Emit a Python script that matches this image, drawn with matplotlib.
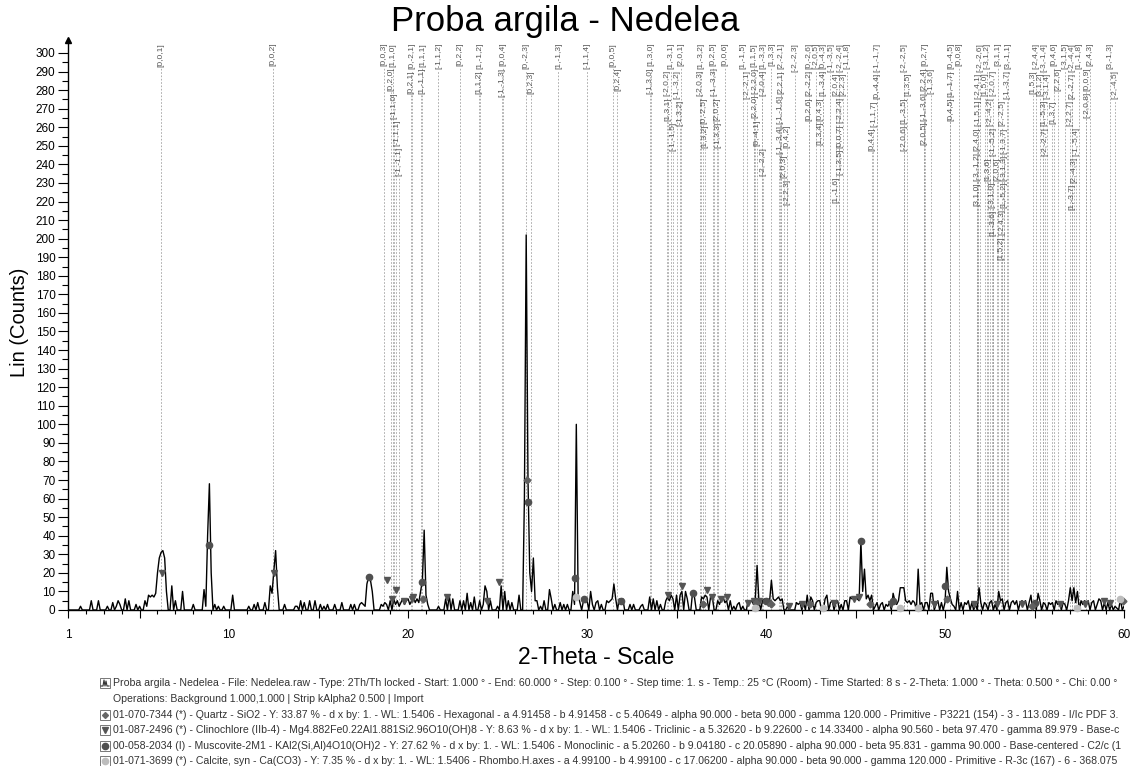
import matplotlib
matplotlib.use("Agg")
import matplotlib.pyplot as plt
from matplotlib.patches import Rectangle
from matplotlib.lines import Line2D
import numpy as np

plt.rcParams['font.family'] = ['Liberation Sans', 'DejaVu Sans']

# scan: Start 1.000, Step 0.100 (one row = one degree)
scan_start = 1.0
scan_step = 0.1
counts = [
    0, 0, 0, 0, 0, 0, 0, 2, 0, 0,        # 1
    0, 0, 0, 5, 0, 0, 0, 5, 0, 0,        # 2
    0, 0, 2, 0, 0, 4, 0, 2, 5, 3,        # 3
    0, 0, 6, 0, 5, 0, 0, 0, 3, 0,        # 4
    2, 0, 0, 5, 2, 8, 7, 8, 7, 9,        # 5
    20, 28, 31, 32, 28, 10, 0, 0, 13, 0,  # 6
    5, 0, 0, 0, 10, 0, 0, 0, 0, 0,       # 7
    3, 0, 0, 0, 0, 0, 11, 2, 40, 68,     # 8
    20, 0, 3, 0, 2, 0, 0, 2, 0, 0,       # 9
    0, 0, 8, 0, 0, 0, 0, 0, 0, 0,        # 10
    0, 2, 0, 0, 3, 0, 4, 0, 0, 0,        # 11
    4, 0, 0, 13, 9, 21, 32, 12, 0, 0,    # 12
    0, 3, 0, 0, 0, 0, 0, 2, 2, 0,        # 13
    5, 0, 4, 0, 0, 5, 0, 0, 5, 0,        # 14
    0, 3, 0, 2, 0, 3, 0, 0, 0, 3,        # 15
    0, 0, 0, 4, 0, 0, 0, 0, 3, 0,        # 16
    3, 0, 0, 3, 4, 3, 2, 14, 18, 16,     # 17
    10, 0, 0, 0, 0, 3, 2, 4, 3, 0,       # 18
    5, 0, 6, 3, 5, 2, 4, 6, 3, 5,        # 19
    6, 3, 5, 7, 4, 6, 4, 10, 16, 43,     # 20
    8, 3, 0, 0, 0, 0, 0, 2, 0, 0,        # 21
    0, 6, 0, 8, 0, 6, 0, 0, 0, 5,        # 22
    0, 5, 0, 9, 0, 4, 0, 7, 0, 0,        # 23
    5, 0, 3, 13, 10, 0, 5, 0, 0, 0,      # 24
    2, 0, 13, 0, 10, 0, 5, 0, 4, 0,      # 25
    0, 0, 8, 0, 0, 60, 202, 70, 20, 10,  # 26
    28, 5, 5, 0, 2, 0, 5, 0, 0, 11,      # 27
    6, 0, 3, 0, 0, 4, 0, 3, 0, 3,        # 28
    0, 0, 10, 3, 100, 8, 4, 0, 5, 4,     # 29
    5, 0, 10, 3, 0, 4, 5, 0, 3, 0,       # 30
    0, 5, 4, 5, 6, 14, 6, 0, 6, 5,       # 31
    6, 0, 0, 0, 3, 0, 3, 0, 0, 0,        # 32
    2, 3, 0, 0, 0, 7, 0, 6, 0, 5,        # 33
    0, 3, 0, 0, 5, 7, 5, 8, 6, 0,        # 34
    8, 0, 8, 10, 0, 10, 6, 0, 0, 10,     # 35
    7, 0, 0, 0, 7, 6, 8, 7, 0, 7,        # 36
    7, 0, 0, 5, 3, 6, 7, 4, 5, 0,        # 37
    5, 0, 2, 0, 3, 4, 0, 2, 0, 0,        # 38
    5, 4, 5, 3, 6, 24, 5, 0, 5, 6,       # 39
    4, 6, 5, 16, 6, 5, 6, 7, 5, 6,       # 40
    0, 0, 2, 0, 0, 0, 0, 4, 3, 4,        # 41
    0, 4, 0, 8, 0, 7, 5, 0, 4, 5,        # 42
    5, 0, 0, 6, 8, 0, 4, 5, 0, 4,        # 43
    5, 0, 3, 0, 5, 5, 0, 7, 6, 7,        # 44
    7, 6, 5, 37, 10, 22, 6, 8, 5, 8,     # 45
    0, 2, 4, 0, 3, 4, 0, 3, 2, 4,        # 46
    0, 9, 5, 3, 5, 12, 12, 12, 5, 4,     # 47
    5, 3, 5, 4, 0, 22, 3, 4, 0, 4,       # 48
    4, 0, 9, 9, 0, 3, 5, 0, 4, 0,        # 49
    4, 23, 10, 6, 3, 2, 0, 10, 0, 4,     # 50
    0, 4, 3, 5, 0, 4, 0, 3, 0, 12,       # 51
    4, 0, 4, 3, 0, 4, 5, 0, 3, 0,        # 52
    10, 5, 6, 0, 4, 5, 0, 4, 5, 3,       # 53
    5, 0, 4, 5, 4, 5, 0, 4, 8, 0,        # 54
    4, 0, 9, 5, 0, 4, 3, 0, 4, 3,        # 55
    4, 0, 5, 3, 4, 0, 4, 3, 0, 5,        # 56
    12, 5, 12, 4, 10, 0, 5, 3, 5, 4,     # 57
    5, 0, 4, 5, 0, 3, 6, 5, 0, 4,        # 58
    0, 4, 0, 3, 0, 2, 1, 0, 6, 0,        # 59
    2,                                   # 60
]
two_theta = scan_start + scan_step * np.arange(len(counts))

# reference lines (hkl labels at the top)
ref_theta = [6.2, 12.45, 18.65, 19.15, 19.05, 19.2, 19.35, 19.5, 20.2, 20.15,
             20.8, 20.75, 21.7, 22.9, 24.0, 23.95, 25.3, 25.25, 26.6, 26.85,
             28.4, 30.0, 31.45, 31.7, 33.55, 33.5, 34.7, 34.45, 34.5, 34.8,
             35.0, 35.25, 35.2, 36.35, 36.3, 36.5, 36.6, 37.05, 37.1, 37.25,
             37.3, 37.7,
             38.7, 38.95, 39.3, 39.35, 39.4, 39.5,
             39.8, 39.8, 39.85, 40.3, 40.85, 40.85, 40.8, 40.75,
             41.15, 41.0, 41.15, 41.6,
             42.4, 42.4, 42.4,
             43.2, 43.2, 43.0, 43.0, 42.8,
             44.1, 44.5, 44.3, 44.1, 44.1, 44.1, 43.9, 43.9, 43.6,
             46.2, 46.2, 46.0, 45.9,
             47.7, 47.9, 47.7, 47.7,
             48.9, 49.2, 48.8, 48.8, 48.8,
             50.3, 50.3, 50.3, 50.8,
             51.95, 51.85, 51.85, 51.8, 51.8, 51.8,
             52.25, 52.35, 52.5, 52.7, 52.4, 52.6, 52.7, 52.7,
             53.5, 53.45, 53.2, 53.3, 53.3, 53.3, 52.95, 53.2, 53.1, 52.9,
             56.1, 55.5, 55.7, 55.3, 55.5, 55.1, 54.9, 55.6,
             57.1, 57.1, 57.0, 57.3, 57.2, 57.5, 58.1, 57.9, 57.9, 57.1,
             56.7, 56.3, 56.0,
             59.2, 59.5]
ref_hkl = ['[0,0,1]', '[0,0,2]', '[0,0,3]', '[1,1,0]', '[0,2,0]', '[-1,1,0]', '[-1,1,1]', '[-1,-1,1]', '[0,-2,1]', '[0,2,1]',
           '[1,1,1]', '[1,-1,1]', '[-1,1,2]', '[0,2,2]', '[1,-1,2]', '[1,1,2]', '[0,0,4]', '[-1,-1,3]', '[0,-2,3]', '[0,2,3]',
           '[1,-1,3]', '[-1,1,4]', '[0,0,5]', '[0,2,4]', '[1,3,0]', '[-1,3,0]', '[1,-3,1]', '[-2,0,2]', '[1,3,1]', '[-1,-1,5]',
           '[-1,-3,2]', '[2,0,1]', '[-1,3,2]', '[1,-3,2]', '[-2,0,3]', '[0,-2,5]', '[1,3,2]', '[0,2,5]', '[-1,-3,3]', '[2,0,2]',
           '[-1,3,3]', '[0,0,6]',
           '[1,-1,5]', '[-2,-2,1]', '[1,1,5]', '[-2,2,0]', '[2,2,0]', '[0,-4,1]',
           '[1,-3,3]', '[-2,0,4]', '[-2,-2,2]', '[1,3,3]', '[2,-2,1]', '[2,2,1]', '[-1,-1,6]', '[-1,-3,4]',
           '[0,4,2]', '[2,0,3]', '[-2,2,3]', '[-2,-2,3]',
           '[0,-2,6]', '[2,-2,2]', '[0,2,6]',
           '[0,-4,3]', '[1,-3,4]', '[0,4,3]', '[1,3,4]', '[-2,0,5]',
           '[-2,-2,4]', '[-1,1,8]', '[2,2,3]', '[-2,2,4]', '[0,0,7]', '[-1,3,5]', '[2,0,4]', '[1,-1,6]', '[-1,-3,5]',
           '[-1,-1,7]', '[0,-4,4]', '[-1,1,7]', '[0,4,4]',
           '[-2,-2,5]', '[1,3,5]', '[1,-3,5]', '[-2,0,6]',
           '[0,2,7]', '[-1,3,6]', '[2,2,4]', '[-1,-3,6]', '[2,0,5]',
           '[0,-4,5]', '[1,-1,7]', '[0,4,5]', '[0,0,8]',
           '[-2,-2,6]', '[-2,4,1]', '[-1,5,1]', '[2,4,0]', '[-3,-1,2]', '[3,1,0]',
           '[1,5,0]', '[-3,1,2]', '[-2,-4,2]', '[-1,-5,2]', '[1,3,6]', '[-3,1,0]', '[-2,0,7]', '[1,-3,6]',
           '[3,-1,1]', '[-1,-3,7]', '[2,-2,5]', '[-1,3,7]', '[-3,1,3]', '[1,-5,2]', '[3,1,1]', '[-2,4,3]', '[1,5,2]', '[2,0,6]',
           '[0,4,6]', '[-3,-1,4]', '[-3,1,4]', '[3,1,2]', '[1,-5,3]', '[-2,4,4]', '[1,5,3]', '[-2,-2,7]',
           '[-2,-4,4]', '[2,-2,7]', '[-2,2,7]', '[-1,-5,4]', '[2,-4,3]', '[1,-1,8]', '[2,4,3]', '[0,0,9]', '[-2,0,8]', '[1,-3,7]',
           '[-3,1,5]', '[2,2,6]', '[1,3,7]',
           '[3,-1,3]', '[-2,-4,5]']

# phase markers (stick heights)
quartz_theta = [20.85, 26.62, 36.5, 39.45, 40.3, 42.45, 45.8, 50.1, 54.85, 59.95]
quartz_y = [6, 70, 3, 4, 3, 3, 3, 6, 2, 5]
clino_theta = [6.25, 12.5, 18.8, 19.1, 19.35, 19.8, 20.2, 20.3, 22.2, 24.4, 25.1,
               34.55, 35.3, 36.7, 37.0, 37.5, 37.8, 39.0, 39.3, 39.6, 40.1, 41.3,
               42.0, 43.8, 44.9, 45.2, 47.0, 49.4, 51.6, 52.9, 54.3, 56.4, 57.8,
               58.9, 59.2]
clino_y = [20, 20, 16, 6, 11, 5, 6, 7, 7, 5, 15,
           8, 13, 11, 7, 6, 7, 4, 5, 5, 4, 2,
           3, 4, 6, 7, 3, 3, 3, 3, 3, 3, 3,
           5, 4]
musc_theta = [8.85, 17.8, 20.8, 26.7, 29.3, 29.85, 31.9, 35.9, 40.0, 45.3, 47.1, 50.0, 55.0]
musc_y = [35, 18, 15, 58, 17, 6, 5, 9, 5, 37, 5, 13, 4]
calc_theta = [29.4, 39.4, 43.2, 47.5, 48.5, 57.4, 59.8]
calc_y = [7, 1, 1, 1, 1, 1, 6]

title = 'Proba argila - Nedelea'
legend_rows = [
    'Proba argila - Nedelea - File: Nedelea.raw - Type: 2Th/Th locked - Start: 1.000 ° - End: 60.000 ° - Step: 0.100 ° - Step time: 1. s - Temp.: 25 °C (Room) - Time Started: 8 s - 2-Theta: 1.000 ° - Theta: 0.500 ° - Chi: 0.00 °',
    'Operations: Background 1.000,1.000 | Strip kAlpha2 0.500 | Import',
    '01-070-7344 (*) - Quartz - SiO2 - Y: 33.87 % - d x by: 1. - WL: 1.5406 - Hexagonal - a 4.91458 - b 4.91458 - c 5.40649 - alpha 90.000 - beta 90.000 - gamma 120.000 - Primitive - P3221 (154) - 3 - 113.089 - I/Ic PDF 3.',
    '01-087-2496 (*) - Clinochlore (IIb-4) - Mg4.882Fe0.22Al1.881Si2.96O10(OH)8 - Y: 8.63 % - d x by: 1. - WL: 1.5406 - Triclinic - a 5.32620 - b 9.22600 - c 14.33400 - alpha 90.560 - beta 97.470 - gamma 89.979 - Base-c',
    '00-058-2034 (I) - Muscovite-2M1 - KAl2(Si,Al)4O10(OH)2 - Y: 27.62 % - d x by: 1. - WL: 1.5406 - Monoclinic - a 5.20260 - b 9.04180 - c 20.05890 - alpha 90.000 - beta 95.831 - gamma 90.000 - Base-centered - C2/c (1',
    '01-071-3699 (*) - Calcite, syn - Ca(CO3) - Y: 7.35 % - d x by: 1. - WL: 1.5406 - Rhombo.H.axes - a 4.99100 - b 4.99100 - c 17.06200 - alpha 90.000 - beta 90.000 - gamma 120.000 - Primitive - R-3c (167) - 6 - 368.075',
]

W, H = 1131, 766
fig = plt.figure(figsize=(W / 100, H / 100), dpi=100)
ax = fig.add_axes([68 / W, (H - 610) / H, (1124 - 68) / W, (610 - 40) / H])
ax.set_xlim(1, 60)
ax.set_ylim(0, 307)

for s in ['top', 'right']:
    ax.spines[s].set_visible(False)
ax.spines['left'].set_linewidth(1.0)
ax.spines['bottom'].set_linewidth(1.0)

ax.set_yticks(np.arange(0, 301, 10))
ax.set_yticks(np.arange(5, 301, 10), minor=True)
ax.tick_params(axis='y', which='major', length=7, width=0.8, pad=2, labelsize=8.5)
ax.tick_params(axis='y', which='minor', length=4, width=0.8)
xt = [1, 5, 10, 15, 20, 25, 30, 35, 40, 45, 50, 55, 60]
ax.set_xticks(xt)
ax.set_xticklabels(['1', '', '10', '', '20', '', '30', '', '40', '', '50', '', '60'])
ax.set_xticks(np.arange(2, 60), minor=True)
ax.tick_params(axis='x', which='major', length=6, width=0.8, pad=8, labelsize=8.5)
ax.tick_params(axis='x', which='minor', length=3, width=0.8)

# y axis arrow
ax.plot([1], [307], marker='^', color='black', ms=5, clip_on=False, zorder=5)

# reference labels stacked top-down where they collide
fig.canvas.draw()
r = fig.canvas.get_renderer()
top_data = 305.5
top_px = ax.transData.transform((1, top_data))[1]
placed = []
for t, lab in zip(ref_theta, ref_hkl):
    txt = ax.text(t, top_data, lab, rotation=90, ha='center', va='top',
                  fontsize=6, color='#555555', zorder=2)
    bb = txt.get_window_extent(r)
    h, w = bb.height, bb.width
    x = ax.transData.transform((t, 0))[0]
    top = top_px
    moved = True
    while moved:
        moved = False
        for px, pt, pb, pw in placed:
            if abs(px - x) < (pw + w) / 2 - 0.5 and top > pb and top - h < pt:
                top = pb - 1
                moved = True
    placed.append((x, top, top - h, w))
    ytop = ax.transData.inverted().transform((x, top))[1]
    ybot = ax.transData.inverted().transform((x, top - h - 1))[1]
    txt.set_position((t, ytop))
    ax.vlines(t, 0, ybot, colors='#a0a0a0', linestyles=(0, (2, 2)), linewidth=0.6, zorder=1)

ax.plot(two_theta, counts, color='black', linewidth=1.0, zorder=3)

ax.plot(clino_theta, clino_y, 'v', color='#555555', ms=5, zorder=4, clip_on=False)
ax.plot(musc_theta, musc_y, 'o', color='#505050', ms=4.5, zorder=4, clip_on=False)
ax.plot(quartz_theta, quartz_y, 'D', color='#606060', ms=3.5, zorder=4, clip_on=False)
ax.plot(calc_theta, calc_y, 'o', color='#bdbdbd', ms=4.5, zorder=4, clip_on=False)

fig.text(565 / W, 1 - 22 / H, title, ha='center', va='center', fontsize=25)
fig.text(20 / W, 1 - 322 / H, 'Lin (Counts)', rotation=90, ha='center', va='center', fontsize=14.5)
fig.text(596 / W, 1 - 658 / H, '2-Theta - Scale', ha='center', va='center', fontsize=16.5)

# legend block
row_y = [683, 699, 715, 730, 746, 761]
icon_x = 100
text_x = 113
for i, line in enumerate(legend_rows):
    fig.text(text_x / W, 1 - row_y[i] / H, line, ha='left', va='center', fontsize=7.55, color='#333333')
icon_styles = [None, None, ('D', '#666666', 3), ('v', '#555555', 5), ('o', '#505050', 4.5), ('o', '#bdbdbd', 4.5)]
for i, st in enumerate(icon_styles):
    if i == 1:
        continue
    y0 = 1 - (row_y[i] + 5) / H
    fig.add_artist(Rectangle((icon_x / W, y0), 10 / W, 10 / H, transform=fig.transFigure,
                             fill=False, edgecolor='#777777', linewidth=0.7))
    cx = (icon_x + 5) / W
    cy = 1 - row_y[i] / H
    if st is None:
        px = [icon_x + 1, icon_x + 3, icon_x + 4, icon_x + 5, icon_x + 6, icon_x + 7, icon_x + 9]
        py = [row_y[i] + 3, row_y[i] + 3, row_y[i] - 3, row_y[i] + 3, row_y[i] - 2, row_y[i] + 3, row_y[i] + 3]
        fig.add_artist(Line2D([p / W for p in px], [1 - p / H for p in py], transform=fig.transFigure,
                              color='#333333', linewidth=0.8))
    else:
        fig.add_artist(Line2D([cx], [cy], marker=st[0], color=st[1], ms=st[2], transform=fig.transFigure))

fig.savefig('out.png', dpi=100)
